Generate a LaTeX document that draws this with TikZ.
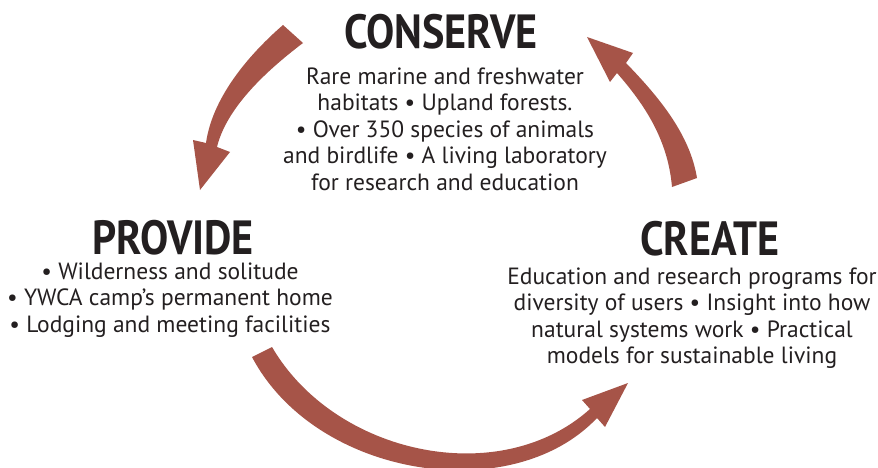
\documentclass[tikz,border=0pt]{standalone}
\usepackage{fontspec}
\setmainfont{PT Sans}
\newfontfamily\headfont{PT Sans}[FakeStretch=0.88]
\usetikzlibrary{positioning}

\definecolor{arrowred}{RGB}{166,84,72}
\definecolor{ink}{RGB}{35,31,32}

\tikzset{
  heading/.style={font=\headfont\fontsize{48}{48}\selectfont\bfseries, text=ink, inner sep=0pt},
  body/.style={font=\fontsize{23.5}{26.5}\selectfont, text=ink, align=center, inner sep=0pt},
  cyclearrow/.style={fill=arrowred, draw=none}
}

\begin{document}
\begin{tikzpicture}[x=1pt, y=-1pt]
  \useasboundingbox (0,0) rectangle (878,468);

  % the three stages
  \node[heading] (conserve) at (441,31.5) {CONSERVE};
  \node[body, below=18pt of conserve, xshift=4pt] (conserveText)
    {Rare marine and freshwater\\ habitats • Upland forests.\\ • Over 350 species of animals\\
     and birdlife • A living laboratory\\ for research and education};

  \node[heading] (provide) at (173,237.5) {PROVIDE};
  \node[body, below=7pt of provide, xshift=-3pt] (provideText)
    {• Wilderness and solitude\\ • YWCA camp’s permanent home\\ • Lodging and meeting facilities};

  \node[heading] (create) at (710,238.5) {CREATE};
  \node[body, below=11pt of create, xshift=-18pt] (createText)
    {Education and research programs for\\ diversity of users • Insight into how\\
     natural systems work • Practical\\ models for sustainable living};

  % conserve -> provide
  \fill[cyclearrow] (283,25) coordinate (cpTail)
    .. controls (245,58) and (212,100) .. (206,143) -- (193,140)
    -- (200,190) coordinate (cpTip) -- (230,152) -- (217,147)
    .. controls (226,110) and (262,74) .. (303,43) -- cycle;

  % provide -> create
  \fill[cyclearrow] (252,357) coordinate (pcTail)
    .. controls (316,478) and (512,508) .. (597,418) -- (605,427)
    -- (628,383) coordinate (pcTip) -- (582,400) -- (590,409)
    .. controls (500,490) and (335,455) .. (272,347) -- cycle;

  % create -> conserve
  \fill[cyclearrow] (672,187) coordinate (ccTail)
    .. controls (668,140) and (645,105) .. (617,73) -- (610,82)
    -- (587,37) coordinate (ccTip) -- (633,53) -- (626,63)
    .. controls (660,98) and (690,135) .. (697,178) -- cycle;
\end{tikzpicture}
\end{document}
